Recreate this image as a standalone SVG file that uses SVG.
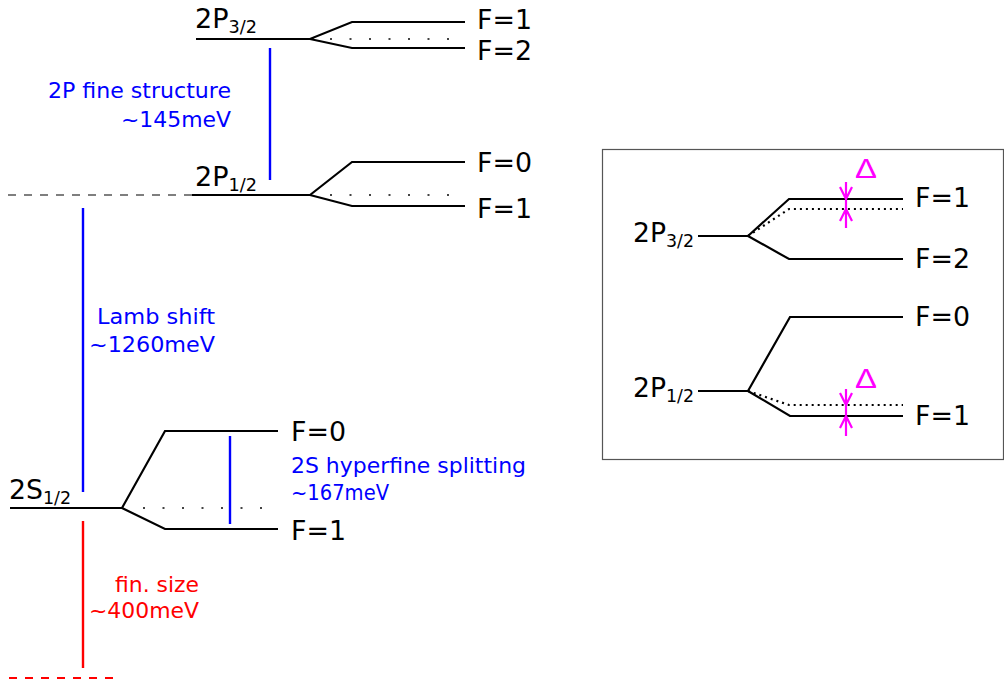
<svg xmlns="http://www.w3.org/2000/svg" width="1004" height="682" viewBox="0 0 1004 682">
<style>
text{font-family:"DejaVu Sans",sans-serif;}
.lbl{font-size:26px;fill:#000;}
.sub{font-size:17px;}
.blue{font-size:21px;fill:#0000ff;}
.red{font-size:21px;fill:#ff0000;}
.lev{fill:none;stroke:#000;stroke-width:2.2;}
.dot{fill:none;stroke:#444;stroke-width:2;stroke-dasharray:2 17.5;}
.dot2{fill:none;stroke:#000;stroke-width:2.2;stroke-dasharray:2 4;}
.dash{fill:none;stroke:#555;stroke-width:1.6;stroke-dasharray:8 8;}
.rdash{fill:none;stroke:#ff0000;stroke-width:2.2;stroke-dasharray:8 8;}
.bl{stroke:#0000ff;stroke-width:2.4;}
.rl{stroke:#ff0000;stroke-width:2.4;}
.mg{fill:none;stroke:#ff00ff;stroke-width:2.2;}
text.dl{font-family:"Liberation Sans",sans-serif;font-size:27px;fill:#ff00ff;}
</style>
<rect x="0" y="0" width="1004" height="682" fill="#fff"/>

<g id="p32">
<path class="lev" d="M196,39 H310 L352,22 H465 M310,39 L352,48 H465"/>
<path class="dot" d="M330,39 H465"/>
<text class="lbl" x="195" y="28" textLength="62" lengthAdjust="spacingAndGlyphs">2P<tspan class="sub" dy="5">3/2</tspan></text>
<text class="lbl" x="477" y="29" textLength="55" lengthAdjust="spacingAndGlyphs">F=1</text>
<text class="lbl" x="477" y="60" textLength="55" lengthAdjust="spacingAndGlyphs">F=2</text>
</g>

<g id="p12">
<path class="dash" d="M8,195 H192"/>
<path class="lev" d="M192,195 H310 L352,162 H465 M310,195 L352,206 H465"/>
<path class="dot" d="M330,195 H465"/>
<text class="lbl" x="195" y="186" textLength="62" lengthAdjust="spacingAndGlyphs">2P<tspan class="sub" dy="5">1/2</tspan></text>
<text class="lbl" x="477" y="172" textLength="55" lengthAdjust="spacingAndGlyphs">F=0</text>
<text class="lbl" x="477" y="218" textLength="55" lengthAdjust="spacingAndGlyphs">F=1</text>
</g>

<g id="s12">
<path class="lev" d="M10,508 H122 L165,431 H278 M122,508 L165,529 H278"/>
<path class="dot" d="M143,508 H278"/>
<text class="lbl" x="9" y="499" textLength="62" lengthAdjust="spacingAndGlyphs">2S<tspan class="sub" dy="5">1/2</tspan></text>
<text class="lbl" x="291" y="441" textLength="55" lengthAdjust="spacingAndGlyphs">F=0</text>
<text class="lbl" x="291" y="540" textLength="55" lengthAdjust="spacingAndGlyphs">F=1</text>
</g>

<g id="bottom">
<path class="rdash" d="M9,678 H118"/>
</g>

<g id="connectors">
<line class="bl" x1="270" y1="48" x2="270" y2="180"/>
<line class="bl" x1="83" y1="208" x2="83" y2="492"/>
<line class="bl" x1="230" y1="436" x2="230" y2="524"/>
<line class="rl" x1="83" y1="521" x2="83" y2="668"/>
</g>

<g id="labels">
<text class="blue" x="48" y="98" textLength="183" lengthAdjust="spacingAndGlyphs">2P fine structure</text>
<text class="blue" x="121" y="127" textLength="110" lengthAdjust="spacingAndGlyphs">~145meV</text>
<text class="blue" x="97" y="324" textLength="118" lengthAdjust="spacingAndGlyphs">Lamb shift</text>
<text class="blue" x="89" y="352" textLength="126" lengthAdjust="spacingAndGlyphs">~1260meV</text>
<text class="blue" x="291" y="473" textLength="235" lengthAdjust="spacingAndGlyphs">2S hyperfine splitting</text>
<text class="blue" x="291" y="500" textLength="98" lengthAdjust="spacingAndGlyphs">~167meV</text>
<text class="red" x="115" y="592" textLength="84" lengthAdjust="spacingAndGlyphs">fin. size</text>
<text class="red" x="89" y="618" textLength="110" lengthAdjust="spacingAndGlyphs">~400meV</text>
</g>

<g id="inset">
<rect x="602.5" y="149.5" width="401" height="310" fill="none" stroke="#555" stroke-width="1.2"/>
<path class="lev" d="M698,236 H748 L789,199 H903 M748,236 L789,259 H903"/>
<path class="dot2" d="M748,236 L789,209 H903"/>
<path class="lev" d="M698,391 H748 L790,317 H903 M748,391 L790,416 H903"/>
<path class="dot2" d="M748,391 L789,405 H903"/>
<text class="lbl" x="633" y="242" textLength="61" lengthAdjust="spacingAndGlyphs">2P<tspan class="sub" dy="5">3/2</tspan></text>
<text class="lbl" x="633" y="397" textLength="61" lengthAdjust="spacingAndGlyphs">2P<tspan class="sub" dy="5">1/2</tspan></text>
<text class="lbl" x="915" y="207" textLength="55" lengthAdjust="spacingAndGlyphs">F=1</text>
<text class="lbl" x="915" y="268" textLength="55" lengthAdjust="spacingAndGlyphs">F=2</text>
<text class="lbl" x="915" y="326" textLength="55" lengthAdjust="spacingAndGlyphs">F=0</text>
<text class="lbl" x="915" y="425" textLength="55" lengthAdjust="spacingAndGlyphs">F=1</text>
<path class="mg" d="M846,182 V228 M840,187 L846,199 L852,187 M840,221 L846,209 L852,221"/>
<path class="mg" d="M846,389 V436 M840,393 L846,405 L852,393 M840,428 L846,416 L852,428"/>
<text class="dl" x="855" y="178" textLength="22" lengthAdjust="spacingAndGlyphs">Δ</text>
<text class="dl" x="855" y="388" textLength="22" lengthAdjust="spacingAndGlyphs">Δ</text>
</g>
</svg>
